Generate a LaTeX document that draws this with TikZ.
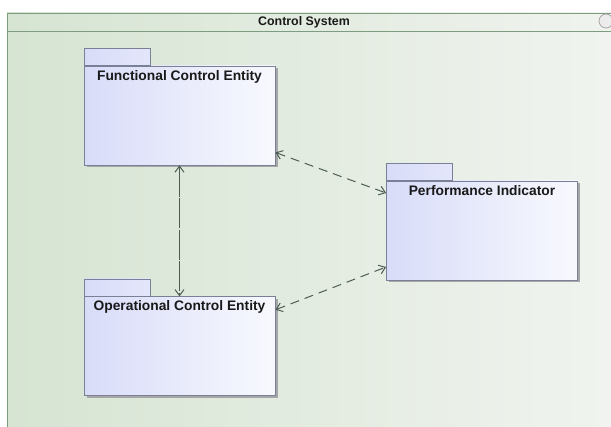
\documentclass[tikz,border=0pt]{standalone}
\usepackage{fontspec}
\setmainfont{Liberation Sans}
\usetikzlibrary{positioning, arrows.meta, shadows, calc}
\definecolor{frameL}{HTML}{D6E4D2}
\definecolor{frameR}{HTML}{F1F4F0}
\definecolor{frameline}{HTML}{7E9C80}
\definecolor{pkgL}{HTML}{D8DCF8}
\definecolor{pkgR}{HTML}{F8F9FE}
\definecolor{pkgline}{HTML}{7A8095}
\definecolor{depline}{HTML}{4C5C52}
\tikzset{
  pkg/.style={rectangle, draw=pkgline, line width=0.8pt, left color=pkgL, right color=pkgR,
    minimum width=191pt, minimum height=99pt, inner sep=0pt,
    drop shadow={shadow xshift=2.5pt, shadow yshift=-2.5pt, fill=black!35, opacity=1}},
  pkgtab/.style={rectangle, draw=pkgline, line width=0.8pt, left color=pkgL, right color=pkgL!70!white,
    minimum width=66pt, minimum height=17pt, inner sep=0pt},
  pkgtitle/.style={font=\bfseries\fontsize{13.8}{16}\selectfont, text=black!90},
  dep/.style={draw=depline, line width=1pt, dash pattern=on 9pt off 6pt,
    {Straight Barb[length=6pt,width=9pt]}-{Straight Barb[length=6pt,width=9pt]}},
}

\begin{document}
\begin{tikzpicture}[x=1pt, y=-1pt]
    \useasboundingbox (0,0) rectangle (611,427);
    \clip (0,0) rectangle (611,427);

    % Frame
    \fill[left color=frameL, right color=frameR] (7,13) rectangle (630,440);
    \draw[frameline, line width=0.8pt] (7,13) rectangle (630,440);
    \draw[frameline, line width=0.8pt] (7,31) -- (630,31);
    \node[pkgtitle, font=\bfseries\fontsize{12.4}{14}\selectfont] (sysname) at (304,22) {Control System};
    \draw[black!35, fill=white!85!gray, line width=0.8pt] (606,21) circle (7pt);

    % Packages
    \node[pkg] (func) at (179.5,115.5) {};
    \node[pkg, below=131pt of func] (oper) {};
    \node[pkg] (perf) at (482,230.5) {};
    \node[pkgtab, anchor=south west] (functab) at (func.north west) {};
    \node[pkgtab, anchor=south west] (opertab) at (oper.north west) {};
    \node[pkgtab, anchor=south west] (perftab) at (perf.north west) {};
    \node[pkgtitle, below=1pt of func.north] (funcname) {Functional Control Entity};
    \node[pkgtitle, below=1pt of oper.north] (opername) {Operational Control Entity};
    \node[pkgtitle, below=1pt of perf.north] (perfname) {Performance Indicator};

    % Dependencies
    \draw[dep] ($(func.east)+(0,37)$) -- ($(perf.west)+(0,-37.5)$);
    \draw[dep] ($(oper.east)+(0,-36.5)$) -- ($(perf.west)+(0,36.5)$);
    \draw[dep, dash pattern=on 30pt off 1.5pt] (func.south) -- (oper.north);
\end{tikzpicture}
\end{document}
